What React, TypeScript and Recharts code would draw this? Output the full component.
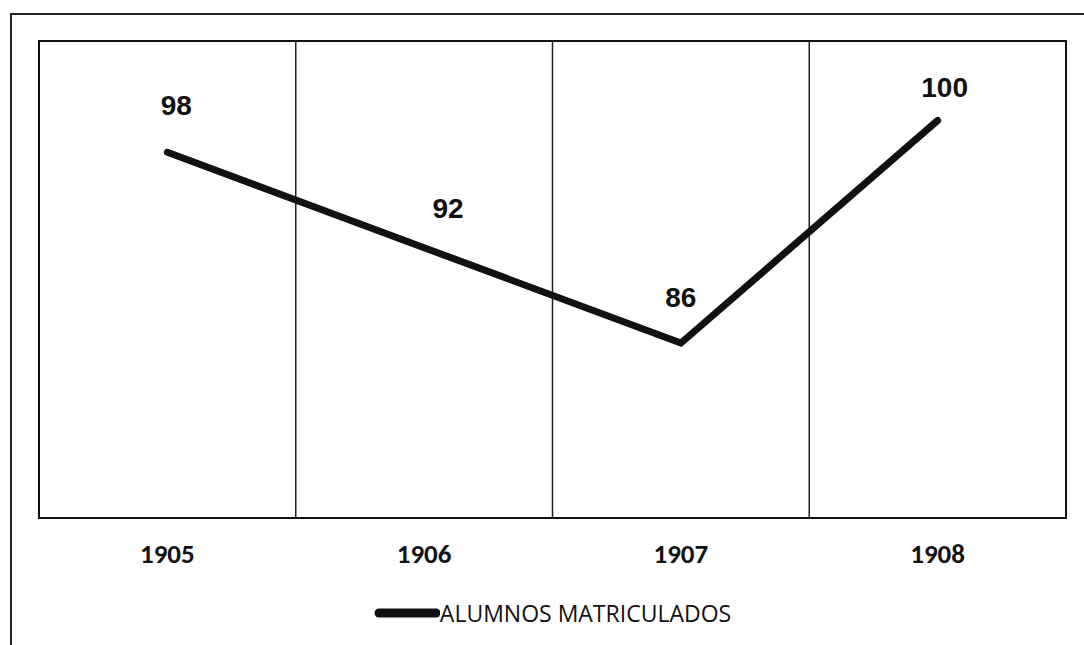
import {
  LineChart,
  Line,
  XAxis,
  YAxis,
  ReferenceLine,
  ReferenceArea,
  LabelList,
  Legend,
} from 'recharts'

const years = ['1905', '1906', '1907', '1908']
const alumnos = [98, 92, 86, 100]
const seriesName = 'ALUMNOS MATRICULADOS'
const yDomain: [number, number] = [75, 105]

// data labels sit a bit differently above each point, as in the scan
const labelOffsets = [
  { dx: 9, dy: -47 },
  { dx: 24, dy: -39 },
  { dx: 0, dy: -46 },
  { dx: 7, dy: -33 },
]

const data = years.map((year, i) => ({ year, alumnos: alumnos[i] }))

function ValueLabel(props: any) {
  const { x, y, value, index } = props
  const off = labelOffsets[index] ?? { dx: 0, dy: -40 }
  return (
    <text
      x={x + off.dx}
      y={y + off.dy}
      textAnchor="middle"
      dominantBaseline="central"
      fill="#111"
      fontSize={28}
      fontWeight={700}
      fontFamily="'Liberation Sans', Arial, sans-serif"
    >
      {value}
    </text>
  )
}

function LegendContent() {
  return (
    <div style={{ display: 'flex', justifyContent: 'center', alignItems: 'center' }}>
      <svg width={66} height={14}>
        <line x1={5} y1={7} x2={62} y2={7} stroke="#111" strokeWidth={9} strokeLinecap="round" />
      </svg>
      <span
        style={{
          fontFamily: "'Open Sans', 'Liberation Sans', sans-serif",
          fontSize: 23,
          color: '#111',
          lineHeight: '30px',
        }}
      >
        {seriesName}
      </span>
    </div>
  )
}

export default function App() {
  return (
    <div
      style={{
        position: 'absolute',
        left: 0,
        top: 0,
        width: 1084,
        height: 645,
        background: '#fff',
        overflow: 'hidden',
      }}
    >
      <div
        style={{
          position: 'absolute',
          left: 10,
          top: 13,
          width: 1100,
          height: 660,
          border: '2px solid #222',
        }}
      />
      <div style={{ position: 'absolute', left: 0, top: 0 }}>
        <LineChart
          width={1084}
          height={645}
          data={data}
          margin={{ top: 41, right: 18, left: 39, bottom: 87 }}
        >
          <XAxis
            dataKey="year"
            scale="band"
            height={40}
            axisLine={false}
            tickLine={false}
            tickSize={6}
            tickMargin={20}
            tick={{
              fill: '#111',
              fontSize: 27,
              fontWeight: 700,
              fontFamily: "'Liberation Sans Narrow', Carlito, 'Liberation Sans', sans-serif",
            }}
          />
          <YAxis domain={yDomain} hide />
          <ReferenceArea
            y1={yDomain[0]}
            y2={yDomain[1]}
            fill="#fff"
            fillOpacity={1}
            stroke="#111"
            strokeWidth={2}
          />
          {years.slice(1).map((yr) => (
            <ReferenceLine key={yr} x={yr} position="start" stroke="#222" strokeWidth={1.5} />
          ))}
          <Legend
            verticalAlign="middle"
            align="center"
            wrapperStyle={{ top: 598, left: 39, width: 1027 }}
            content={<LegendContent />}
          />
          <Line
            type="linear"
            dataKey="alumnos"
            name={seriesName}
            stroke="#111"
            strokeWidth={7}
            strokeLinecap="round"
            strokeLinejoin="miter"
            dot={false}
            isAnimationActive={false}
          >
            <LabelList dataKey="alumnos" content={<ValueLabel />} />
          </Line>
        </LineChart>
      </div>
    </div>
  )
}
